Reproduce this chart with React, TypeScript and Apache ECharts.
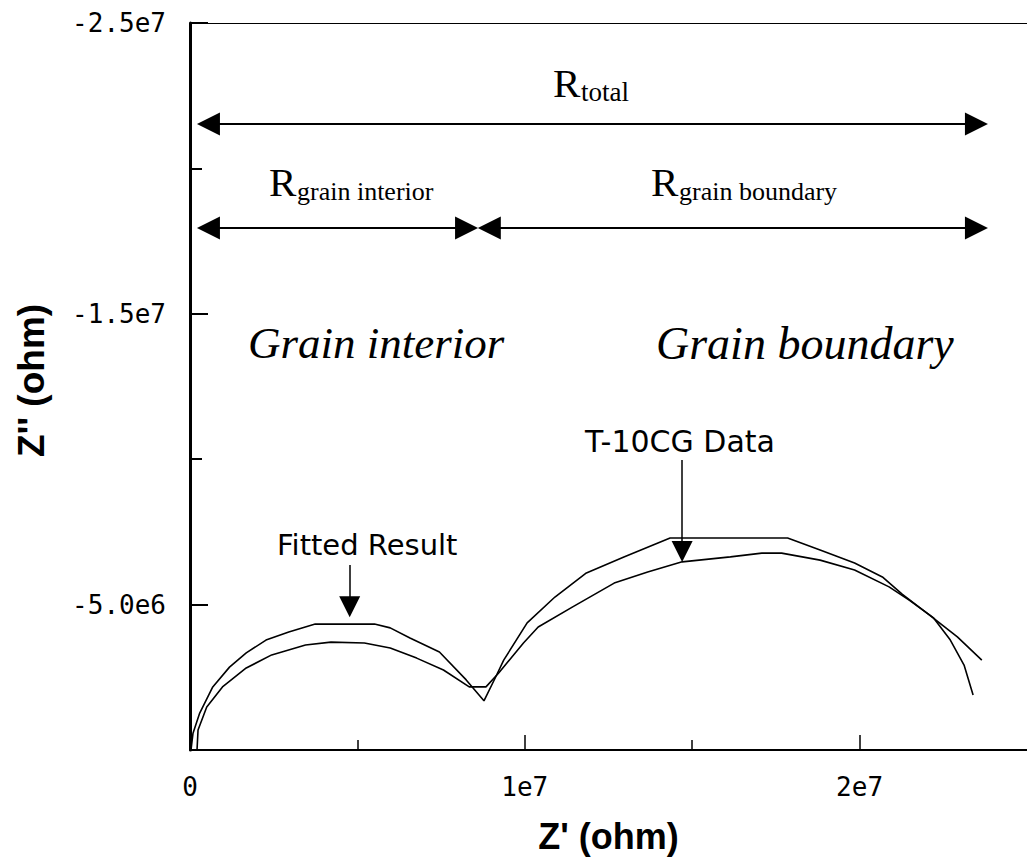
import React, { useEffect, useRef } from "react";
import * as echarts from "echarts";

// Fitted result (Z', Z'') in ohm
const fittedZReal = [
  0.03e6, 0.09e6, 0.29e6, 0.68e6, 1.18e6, 1.68e6, 2.27e6, 2.95e6, 3.74e6, 5.51e6,
  5.98e6, 6.57e6, 7.45e6, 8.25e6, 8.78e6, 9.13e6, 9.37e6, 10.07e6, 10.9e6, 11.84e6,
  12.96e6, 14.34e6, 17.85e6, 18.82e6, 19.85e6, 20.68e6, 21.27e6, 22.09e6, 22.92e6, 23.65e6,
];
const fittedZImag = [
  0, -0.58e6, -1.27e6, -2.17e6, -2.85e6, -3.34e6, -3.78e6, -4.06e6, -4.33e6, -4.33e6,
  -4.2e6, -3.85e6, -3.37e6, -2.41e6, -1.69e6, -2.51e6, -3.09e6, -4.37e6, -5.26e6, -6.09e6,
  -6.64e6, -7.29e6, -7.29e6, -6.88e6, -6.43e6, -5.95e6, -5.36e6, -4.64e6, -3.89e6, -3.09e6,
];

// T-10CG measured data (Z', Z'') in ohm
const dataZReal = [
  0.21e6, 0.24e6, 0.5e6, 0.97e6, 1.68e6, 2.44e6, 3.45e6, 4.21e6, 5.21e6, 5.98e6,
  6.77e6, 7.57e6, 8.34e6, 8.84e6, 9.22e6, 9.96e6, 10.4e6, 11.43e6, 12.67e6, 13.67e6,
  14.7e6, 16.14e6, 17.08e6, 17.67e6, 18.82e6, 19.85e6, 20.88e6, 21.47e6, 22.21e6, 22.71e6,
  23.12e6, 23.39e6,
];
const dataZImag = [
  0, -0.69e6, -1.48e6, -2.17e6, -2.82e6, -3.27e6, -3.61e6, -3.71e6, -3.68e6, -3.51e6,
  -3.16e6, -2.75e6, -2.17e6, -2.17e6, -2.65e6, -3.68e6, -4.23e6, -4.92e6, -5.74e6, -6.12e6,
  -6.47e6, -6.64e6, -6.77e6, -6.77e6, -6.53e6, -6.19e6, -5.61e6, -5.16e6, -4.54e6, -3.78e6,
  -2.92e6, -1.89e6,
];

// Axis ticks and labels
const xMajorTicks = [0, 1e7, 2e7];
const xTickLabels = ["0", "1e7", "2e7"];
const xMinorTicks = [5e6, 1.5e7];
const yMajorTicks = [-2.5e7, -1.5e7, -5e6];
const yTickLabels = ["-2.5e7", "-1.5e7", "-5.0e6"];
const yMinorTicks = [-2e7, -1e7];

// Resistance span arrows (data coords: Z' endpoints, Z'' level)
const rTotalSpan = [0.55e6, 23.49e6];
const rGrainInteriorSpan = [0.55e6, 8.26e6];
const rGrainBoundarySpan = [8.94e6, 23.49e6];
const rTotalLevel = -2.153e7;
const rPartsLevel = -1.795e7;

// Pointer arrows: [Z', Z'' start, Z'' end]
const fittedPointer = [4.77e6, -6.36e6, -4.93e6];
const dataPointer = [14.7e6, -9.97e6, -6.83e6];

const toPairs = (xs: number[], ys: number[]) => xs.map((x, i) => [x, ys[i]]);

export default function App() {
  const ref = useRef<HTMLDivElement>(null);

  useEffect(() => {
    if (!ref.current) return;
    const chart = echarts.init(ref.current, undefined, { renderer: "svg" });

    const tickFont = { fontFamily: "DejaVu Sans Mono", fontSize: 26, color: "#000" };
    const black = "#000";

    const hLine = (span: number[], y: number) => [
      { coord: [span[0], y] },
      { coord: [span[1], y] },
    ];
    const vLine = (p: number[]) => [
      { coord: [p[0], p[1]], symbol: "none" },
      { coord: [p[0], p[2]], symbol: "triangle" },
    ];

    chart.setOption({
      animation: false,
      backgroundColor: "#fff",
      grid: { left: 190, top: 23, width: 849, height: 727, containLabel: false },
      xAxis: [
        {
          type: "value",
          min: 0,
          max: 2.5e7,
          interval: 5e6,
          position: "bottom",
          axisLine: { show: true, onZero: false, lineStyle: { color: black, width: 2 } },
          axisTick: { show: true, inside: true, length: 15, customValues: xMajorTicks, lineStyle: { color: black, width: 1.5 } },
          axisLabel: {
            show: true,
            margin: 24,
            customValues: xMajorTicks,
            formatter: (v: number) => {
              const i = xMajorTicks.indexOf(v);
              return i >= 0 ? xTickLabels[i] : "";
            },
            ...tickFont,
          },
          splitLine: { show: false },
          name: "Z' (ohm)",
          nameLocation: "middle",
          nameGap: 68,
          nameTextStyle: { fontFamily: "Liberation Sans", fontWeight: "bold", fontSize: 36, color: black },
        },
        {
          type: "value",
          min: 0,
          max: 2.5e7,
          interval: 5e6,
          position: "bottom",
          axisLine: { show: false, onZero: false },
          axisTick: { show: true, inside: true, length: 10, customValues: xMinorTicks, lineStyle: { color: black, width: 1.5 } },
          axisLabel: { show: false },
          splitLine: { show: false },
        },
        {
          type: "value",
          min: 0,
          max: 2.5e7,
          position: "top",
          axisLine: { show: true, onZero: false, lineStyle: { color: black, width: 1 } },
          axisTick: { show: false },
          axisLabel: { show: false },
          splitLine: { show: false },
        },
      ],
      yAxis: [
        {
          type: "value",
          min: -2.5e7,
          max: 0,
          interval: 5e6,
          inverse: true,
          position: "left",
          axisLine: { show: true, onZero: false, lineStyle: { color: black, width: 3 } },
          axisTick: { show: true, inside: true, length: 18, customValues: yMajorTicks, lineStyle: { color: black, width: 2 } },
          axisLabel: {
            show: true,
            margin: 24,
            customValues: yMajorTicks,
            formatter: (v: number) => {
              const i = yMajorTicks.indexOf(v);
              return i >= 0 ? yTickLabels[i] : "";
            },
            ...tickFont,
          },
          splitLine: { show: false },
          name: "Z'' (ohm)",
          nameLocation: "middle",
          nameGap: 140,
          nameRotate: 90,
          nameTextStyle: { fontFamily: "Liberation Sans", fontWeight: "bold", fontSize: 37, color: black, padding: [0, 0, 0, 12] },
        },
        {
          type: "value",
          min: -2.5e7,
          max: 0,
          interval: 5e6,
          inverse: true,
          position: "left",
          axisLine: { show: false, onZero: false },
          axisTick: { show: true, inside: true, length: 12, customValues: yMinorTicks, lineStyle: { color: black, width: 2 } },
          axisLabel: { show: false },
          splitLine: { show: false },
        },
      ],
      series: [
        {
          name: "Fitted Result",
          type: "line",
          xAxisIndex: 0,
          yAxisIndex: 0,
          data: toPairs(fittedZReal, fittedZImag),
          showSymbol: false,
          symbol: "none",
          smooth: false,
          lineStyle: { color: black, width: 1.6 },
          silent: true,
          markLine: {
            silent: true,
            symbol: ["triangle", "triangle"],
            symbolSize: [23, 23],
            label: { show: false },
            lineStyle: { color: black, width: 2, type: "solid" },
            emphasis: { disabled: true },
            data: [
              hLine(rTotalSpan, rTotalLevel),
              hLine(rGrainInteriorSpan, rPartsLevel),
              hLine(rGrainBoundarySpan, rPartsLevel),
            ],
          },
        },
        {
          name: "T-10CG Data",
          type: "line",
          xAxisIndex: 0,
          yAxisIndex: 0,
          data: toPairs(dataZReal, dataZImag),
          showSymbol: false,
          symbol: "none",
          smooth: false,
          lineStyle: { color: black, width: 1.6 },
          silent: true,
          markLine: {
            silent: true,
            symbolSize: [21, 21],
            label: { show: false },
            lineStyle: { color: black, width: 1.5, type: "solid" },
            emphasis: { disabled: true },
            data: [vLine(fittedPointer), vLine(dataPointer)],
          },
        },
      ],
      graphic: [
        { type: "text", x: 553, y: 83, style: { text: "R", font: '41px "Liberation Serif"', fill: black, verticalAlign: "middle" } },
        { type: "text", x: 581, y: 92, style: { text: "total", font: '27px "Liberation Serif"', fill: black, verticalAlign: "middle" } },
        { type: "text", x: 269, y: 182, style: { text: "R", font: '41px "Liberation Serif"', fill: black, verticalAlign: "middle" } },
        { type: "text", x: 297, y: 191, style: { text: "grain interior", font: '26px "Liberation Serif"', fill: black, verticalAlign: "middle" } },
        { type: "text", x: 651, y: 182, style: { text: "R", font: '41px "Liberation Serif"', fill: black, verticalAlign: "middle" } },
        { type: "text", x: 679, y: 191, style: { text: "grain boundary", font: '26px "Liberation Serif"', fill: black, verticalAlign: "middle" } },
        { type: "text", x: 248, y: 343, style: { text: "Grain interior", font: 'italic 45px "Liberation Serif"', fill: black, verticalAlign: "middle" } },
        { type: "text", x: 656, y: 343, style: { text: "Grain boundary", font: 'italic 46px "Liberation Serif"', fill: black, verticalAlign: "middle" } },
        { type: "text", x: 277, y: 545, style: { text: "Fitted Result", font: '29px "DejaVu Sans"', fill: black, verticalAlign: "middle" } },
        { type: "text", x: 585, y: 441, style: { text: "T-10CG Data", font: '30px "DejaVu Sans"', fill: black, verticalAlign: "middle" } },
      ],
    });

    return () => chart.dispose();
  }, []);

  return (
    <div
      ref={ref}
      style={{ position: "absolute", left: 0, top: 0, width: 1027, height: 861, background: "#fff" }}
    />
  );
}
